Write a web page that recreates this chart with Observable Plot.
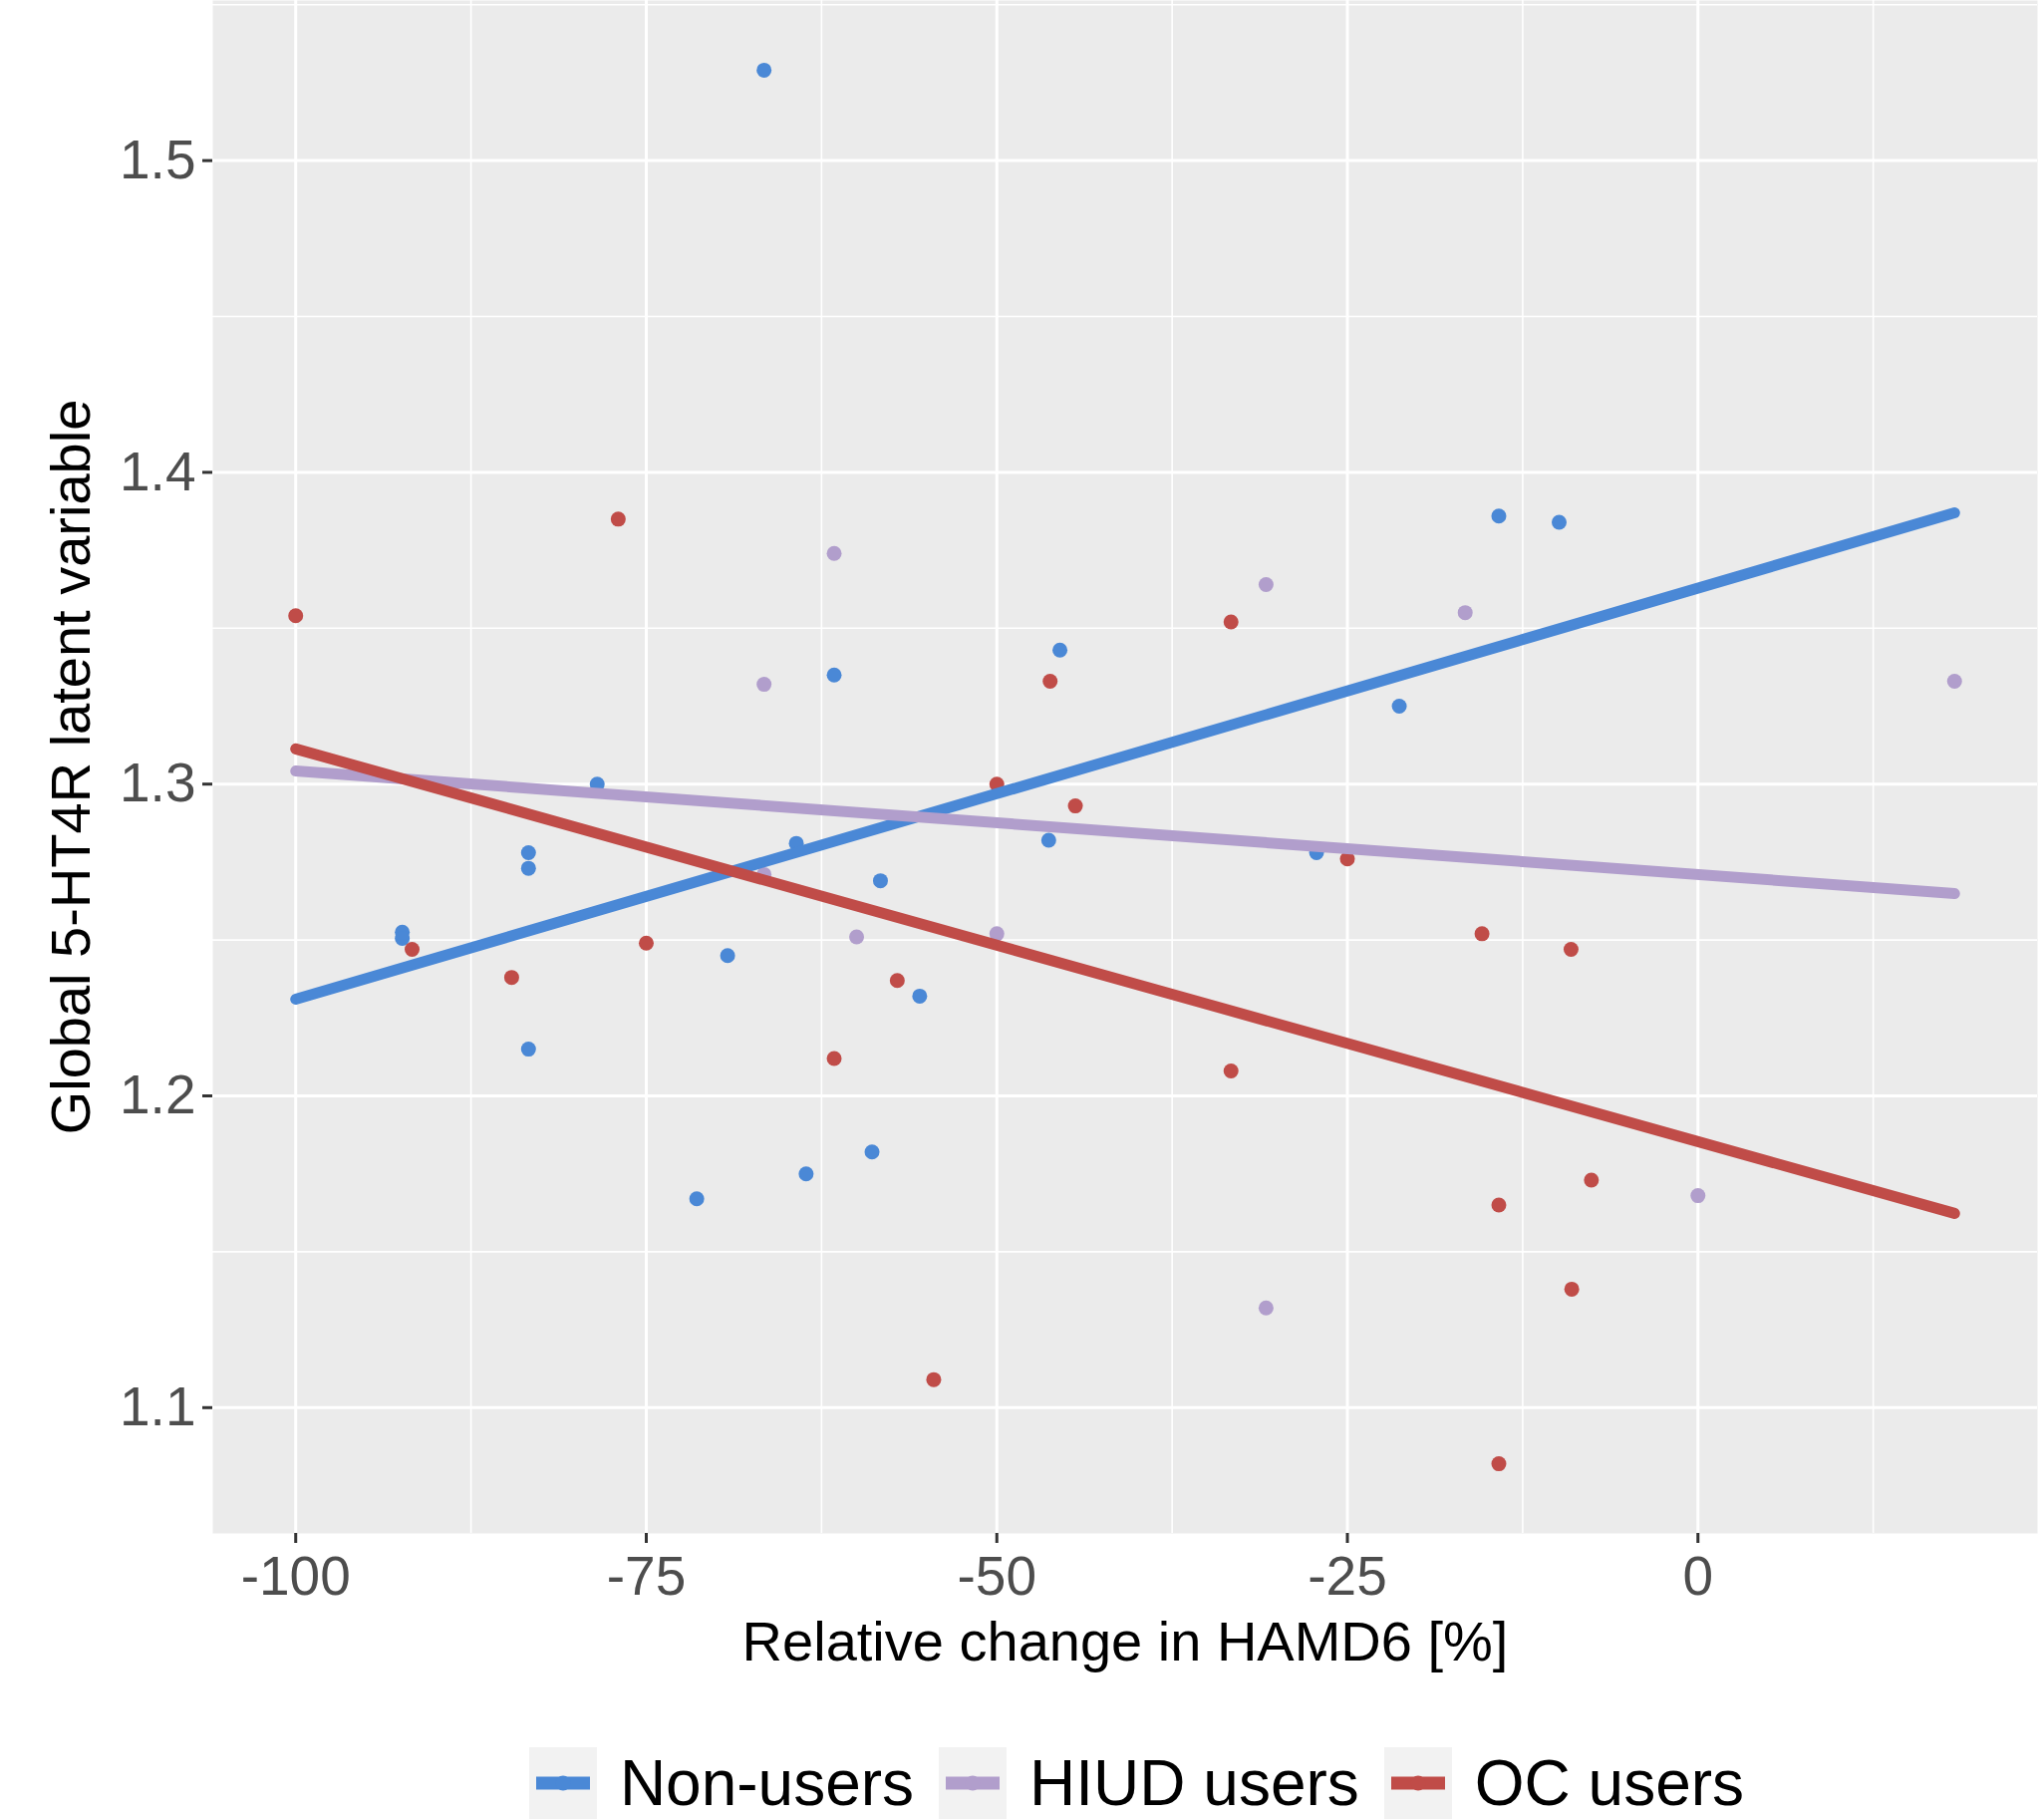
<!DOCTYPE html>
<html>
<head>
<meta charset="utf-8">
<script src="https://cdn.jsdelivr.net/npm/d3@7"></script>
<script src="https://cdn.jsdelivr.net/npm/@observablehq/plot@0.6"></script>
<style>
  html, body { margin: 0; padding: 0; background: #fff; }
  body { width: 2047px; height: 1826px; overflow: hidden; font-family: "Liberation Sans", Arial, sans-serif; }
  #chart svg { display: block; }
  #chart [aria-label="x-axis label"], #chart [aria-label="y-axis label"] { fill: #000; font-size: 56px; }
  #legend { display: flex; justify-content: center; align-items: center; height: 72px; margin-top: 53px; padding-left: 262px; padding-right: 3px; }
  .item { display: flex; align-items: center; }
  .key { width: 68px; height: 72px; background: #F2F2F2; display: block; }
  .lab { font-size: 64px; line-height: 72px; color: #000; margin-left: 23px; margin-right: 25px; white-space: nowrap; }
</style>
</head>
<body>
<div id="chart"></div>
<div id="legend"></div>
<script>
// ---- data ----
const groups = ["Non-users", "HIUD users", "OC users"];
const groupColors = ["#4A88D6", "#B19ECC", "#C04C48"];

const nonUsersX = [-66.6, -14.2, -9.9, -45.5, -61.6, -21.3, -78.5, -64.3, -83.4, -83.4, -46.3, -58.3, -92.4, -92.4, -69.2, -55.5, -83.4, -58.9, -63.6, -71.4, -27.2];
const nonUsersY = [1.529, 1.386, 1.384, 1.343, 1.335, 1.325, 1.300, 1.281, 1.278, 1.273, 1.282, 1.269, 1.2525, 1.2505, 1.245, 1.232, 1.215, 1.182, 1.175, 1.167, 1.278];

const hiudX = [-61.6, -30.8, -16.6, -66.6, 18.3, -60.0, -50.0, 0, -30.8, -66.6];
const hiudY = [1.374, 1.364, 1.355, 1.332, 1.333, 1.251, 1.252, 1.168, 1.132, 1.271];

const ocX = [-100, -77.0, -33.3, -46.2, -50.0, -44.4, -25.0, -91.7, -84.6, -75.0, -57.1, -15.4, -9.05, -61.6, -33.3, -14.2, -7.6, -9.0, -54.5, -14.2];
const ocY = [1.354, 1.385, 1.352, 1.333, 1.300, 1.293, 1.276, 1.247, 1.238, 1.249, 1.237, 1.252, 1.247, 1.212, 1.208, 1.165, 1.173, 1.138, 1.109, 1.082];

// fitted regression lines (values at both ends of the x range)
const fitX = [-100, 18.3];
const fitNonUsers = [1.231, 1.387];
const fitHiud = [1.3042, 1.2649];
const fitOc = [1.3113, 1.1623];

// ticks
const xMajor = [-100, -75, -50, -25, 0];
const xMinor = [-87.5, -62.5, -37.5, -12.5, 12.5];
const yMajor = [1.1, 1.2, 1.3, 1.4, 1.5];
const yMinor = [1.15, 1.25, 1.35, 1.45, 1.55];

const xTitle = "Relative change in HAMD6 [%]";
const yTitle = "Global 5-HT4R latent variable";

// ---- build tables ----
const points = [];
[[nonUsersX, nonUsersY], [hiudX, hiudY], [ocX, ocY]].forEach(([xs, ys], g) => {
  xs.forEach((x, i) => points.push({group: groups[g], x, y: ys[i]}));
});
const fits = [fitNonUsers, fitHiud, fitOc].map((ys, g) =>
  fitX.map((x, i) => ({group: groups[g], x, y: ys[i]})));

// ggplot-like 5% expansion
const xe = d3.extent(points, d => d.x), ye = d3.extent(points, d => d.y);
const xPad = (xe[1] - xe[0]) * 0.05, yPad = (ye[1] - ye[0]) * 0.05;

const chart = Plot.plot({
  width: 2047,
  height: 1700,
  marginLeft: 213,
  marginRight: 3,
  marginTop: 0,
  marginBottom: 162,
  style: {fontFamily: "'Liberation Sans', Arial, sans-serif", fontSize: "55px", background: "#fff"},
  x: {domain: [xe[0] - xPad, xe[1] + xPad]},
  y: {domain: [ye[0] - yPad, ye[1] + yPad]},
  color: {domain: groups, range: groupColors},
  marks: [
    Plot.frame({fill: "#EBEBEB", stroke: null}),
    Plot.gridX(xMinor, {stroke: "#fff", strokeOpacity: 1, strokeWidth: 1.6}),
    Plot.gridY(yMinor, {stroke: "#fff", strokeOpacity: 1, strokeWidth: 1.6}),
    Plot.gridX(xMajor, {stroke: "#fff", strokeOpacity: 1, strokeWidth: 3}),
    Plot.gridY(yMajor, {stroke: "#fff", strokeOpacity: 1, strokeWidth: 3}),
    Plot.axisX(xMajor, {tickSize: 10, tickPadding: 12, stroke: "#333333", strokeWidth: 3, fill: "#4D4D4D",
      tickFormat: d => String(d),
      label: xTitle, labelAnchor: "center", labelArrow: "none", labelOffset: 127}),
    Plot.axisY(yMajor, {tickSize: 10, tickPadding: 7, stroke: "#333333", strokeWidth: 3, fill: "#4D4D4D",
      tickFormat: d => d.toFixed(1),
      label: yTitle, labelAnchor: "center", labelArrow: "none", labelOffset: 163}),
    Plot.dot(points, {x: "x", y: "y", fill: "group", r: 7.5, stroke: null}),
    ...fits.map(f => Plot.line(f, {x: "x", y: "y", stroke: "group", strokeWidth: 11}))
  ]
});
document.getElementById("chart").appendChild(chart);

// ---- legend ----
const legend = document.getElementById("legend");
groups.forEach((g, i) => {
  const item = document.createElement("div");
  item.className = "item";
  item.innerHTML =
    `<svg class="key" width="68" height="72" viewBox="0 0 68 72">` +
    `<rect width="68" height="72" fill="#F2F2F2"/>` +
    `<line x1="7" x2="61" y1="36" y2="36" stroke="${groupColors[i]}" stroke-width="13"/>` +
    `<circle cx="34" cy="36" r="7.5" fill="${groupColors[i]}"/></svg>` +
    `<span class="lab">${g}</span>`;
  legend.appendChild(item);
});
</script>
</body>
</html>
